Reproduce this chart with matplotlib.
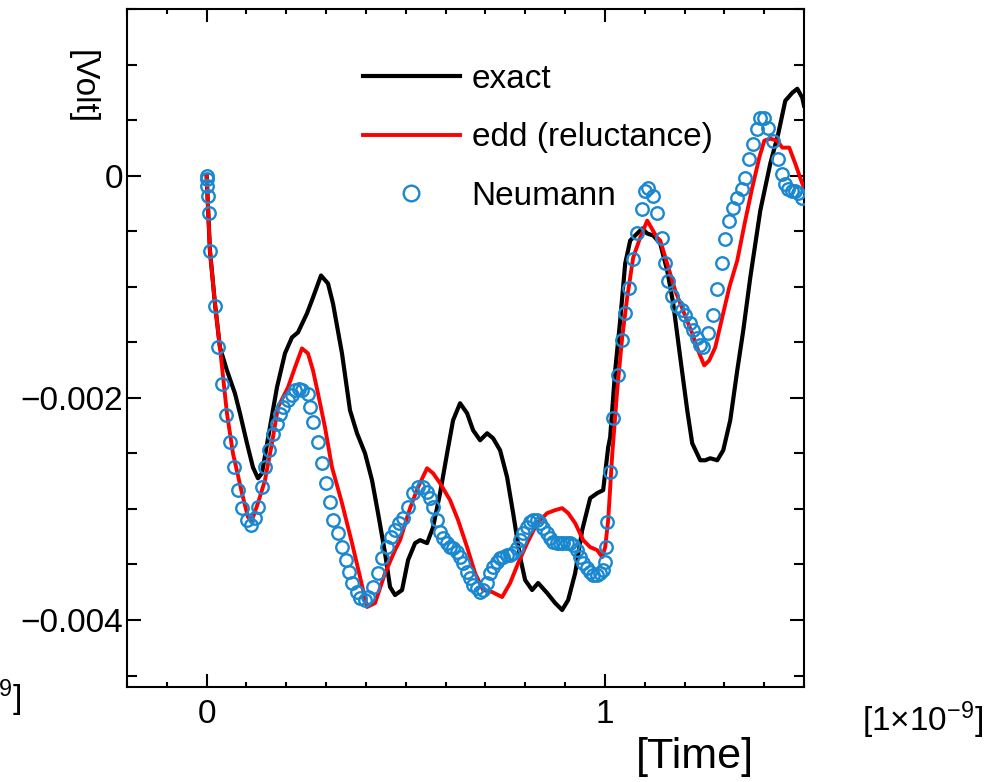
import numpy as np
import matplotlib
matplotlib.use('Agg')
import matplotlib.pyplot as plt
from matplotlib.ticker import MultipleLocator, FuncFormatter

plt.rcParams['font.family'] = ['Liberation Sans', 'DejaVu Sans']
plt.rcParams['mathtext.fontset'] = 'custom'
plt.rcParams['mathtext.rm'] = 'Liberation Sans'
plt.rcParams['mathtext.it'] = 'Liberation Sans:italic'
plt.rcParams['font.size'] = 24

# time in units of 1e-9 s, voltage in mV (scaled to V when drawn)
exact_t = [0.0, 0.0083, 0.0209, 0.0334, 0.0510, 0.0711, 0.0837, 0.1013, 0.1163, 0.1289,
           0.1389, 0.1590, 0.1766, 0.1967, 0.2143, 0.2294, 0.2520, 0.2671, 0.2872, 0.3048,
           0.3173, 0.3399, 0.3600, 0.3776, 0.3977, 0.4153, 0.4304, 0.4480, 0.4606, 0.4731,
           0.4907, 0.5058, 0.5234, 0.5359, 0.5535, 0.5686, 0.5862, 0.6038, 0.6188, 0.6364,
           0.6540, 0.6691, 0.6867, 0.7043, 0.7193, 0.7369, 0.7545, 0.7696, 0.7872, 0.7997,
           0.8173, 0.8324, 0.8550, 0.8751, 0.8927, 0.9078, 0.9254, 0.9430, 0.9631, 0.9807,
           0.9957, 1.0083, 1.0133, 1.0259, 1.0384, 1.0510, 1.0636, 1.0812, 1.0937, 1.1063,
           1.1214, 1.1389, 1.1565, 1.1716, 1.1892, 1.2068, 1.2193, 1.2394, 1.2520, 1.2646,
           1.2822, 1.2972, 1.3148, 1.3324, 1.3475, 1.3651, 1.3902, 1.4153, 1.4354, 1.4530,
           1.4706, 1.4832, 1.4957, 1.5000]
exact_v = [0.0, -0.674, -1.151, -1.546, -1.753, -1.960, -2.139, -2.409, -2.625, -2.724,
           -2.679, -2.265, -1.906, -1.600, -1.456, -1.411, -1.240, -1.097, -0.899, -0.971,
           -1.151, -1.600, -2.112, -2.319, -2.499, -2.742, -3.038, -3.398, -3.703, -3.775,
           -3.730, -3.461, -3.308, -3.281, -3.308, -3.164, -2.858, -2.499, -2.202, -2.049,
           -2.139, -2.292, -2.382, -2.319, -2.364, -2.472, -2.715, -3.038, -3.434, -3.640,
           -3.730, -3.667, -3.757, -3.847, -3.910, -3.820, -3.578, -3.191, -2.903, -2.858,
           -2.831, -2.445, -2.355, -1.753, -1.303, -0.791, -0.584, -0.521, -0.476, -0.521,
           -0.539, -0.611, -0.854, -1.151, -1.636, -2.112, -2.409, -2.562, -2.562, -2.544,
           -2.562, -2.472, -2.202, -1.753, -1.393, -0.917, -0.315, 0.108, 0.378, 0.674,
           0.746, 0.782, 0.701, 0.630]

edd_t = [0.0, 0.0083, 0.0209, 0.0334, 0.0510, 0.0661, 0.0887, 0.1038, 0.1138, 0.1289,
         0.1465, 0.1641, 0.1791, 0.2043, 0.2219, 0.2394, 0.2545, 0.2671, 0.2796, 0.2972,
         0.3148, 0.3399, 0.3651, 0.3852, 0.4028, 0.4229, 0.4480, 0.4731, 0.4857, 0.5108,
         0.5309, 0.5535, 0.5686, 0.5862, 0.6113, 0.6314, 0.6540, 0.6741, 0.6942, 0.7168,
         0.7420, 0.7621, 0.7822, 0.8048, 0.8299, 0.8550, 0.8751, 0.8927, 0.9078, 0.9254,
         0.9455, 0.9631, 0.9807, 0.9932, 1.0008, 1.0083, 1.0183, 1.0309, 1.0435, 1.0560,
         1.0711, 1.0887, 1.1063, 1.1314, 1.1390, 1.1565, 1.1766, 1.1992, 1.2193, 1.2369,
         1.2495, 1.2621, 1.2771, 1.2947, 1.3123, 1.3324, 1.3525, 1.3701, 1.3877, 1.4003,
         1.4153, 1.4329, 1.4455, 1.4630, 1.4781, 1.4957, 1.5000]
edd_v = [0.0, -0.674, -1.151, -1.546, -2.139, -2.499, -2.858, -3.074, -3.101, -2.948,
         -2.742, -2.409, -2.085, -1.906, -1.726, -1.555, -1.600, -1.753, -1.960, -2.265,
         -2.625, -2.948, -3.308, -3.613, -3.883, -3.847, -3.578, -3.371, -3.281, -2.993,
         -2.804, -2.634, -2.679, -2.769, -2.921, -3.101, -3.344, -3.578, -3.730, -3.748,
         -3.793, -3.667, -3.488, -3.308, -3.128, -3.038, -3.011, -2.993, -3.038, -3.128,
         -3.281, -3.344, -3.371, -3.434, -3.344, -3.101, -2.517, -1.933, -1.456, -1.097,
         -0.737, -0.557, -0.405, -0.560, -0.584, -0.791, -1.034, -1.240, -1.420, -1.600,
         -1.708, -1.663, -1.546, -1.276, -1.007, -0.764, -0.404, -0.108, 0.162, 0.315,
         0.333, 0.315, 0.252, 0.252, 0.108, -0.072, -0.110]

neumann_t = [0.0, 0.0005, 0.002, 0.003, 0.005, 0.0083, 0.0209, 0.0291, 0.0392, 0.0477,
             0.0585, 0.0693, 0.0779, 0.0879, 0.1005, 0.1113, 0.1214, 0.1296, 0.1382, 0.1465,
             0.1565, 0.1673, 0.1759, 0.1842, 0.1925, 0.2035, 0.2136, 0.2219, 0.2319, 0.2387,
             0.2538, 0.2595, 0.2678, 0.2804, 0.2889, 0.2990, 0.3098, 0.3181, 0.3291, 0.3392,
             0.3492, 0.3575, 0.3658, 0.3769, 0.3852, 0.3977, 0.4060, 0.4186, 0.4296, 0.4412,
             0.4523, 0.4631, 0.4731, 0.4832, 0.4940, 0.5065, 0.5191, 0.5309, 0.5435, 0.5535,
             0.5611, 0.5686, 0.5786, 0.5862, 0.5937, 0.6038, 0.6113, 0.6188, 0.6289, 0.6364,
             0.6440, 0.6540, 0.6615, 0.6691, 0.6791, 0.6867, 0.6942, 0.7043, 0.7118, 0.7193,
             0.7294, 0.7369, 0.7445, 0.7545, 0.7621, 0.7696, 0.7796, 0.7872, 0.7947, 0.8048,
             0.8123, 0.8199, 0.8299, 0.8375, 0.8450, 0.8550, 0.8626, 0.8701, 0.8802, 0.8877,
             0.8952, 0.9053, 0.9128, 0.9204, 0.9304, 0.9379, 0.9455, 0.9555, 0.9631, 0.9706,
             0.9807, 0.9882, 0.9957, 1.0008, 1.0033, 1.0058, 1.0133, 1.0209, 1.0334, 1.0435,
             1.0510, 1.0611, 1.0711, 1.0812, 1.0937, 1.1013, 1.1088, 1.1214, 1.1314, 1.1440,
             1.1515, 1.1590, 1.1691, 1.1817, 1.1942, 1.2018, 1.2143, 1.2219, 1.2319, 1.2394,
             1.2470, 1.2596, 1.2721, 1.2822, 1.2947, 1.3023, 1.3123, 1.3224, 1.3324, 1.3450,
             1.3525, 1.3626, 1.3726, 1.3827, 1.3902, 1.4003, 1.4103, 1.4229, 1.4354, 1.4455,
             1.4530, 1.4605, 1.4706, 1.4781, 1.4857, 1.4957]
neumann_v = [0.0, -0.03, -0.09, -0.18, -0.34, -0.674, -1.169, -1.543, -1.872, -2.157,
             -2.397, -2.622, -2.831, -2.996, -3.101, -3.146, -3.086, -2.982, -2.802, -2.622,
             -2.472, -2.322, -2.232, -2.142, -2.083, -2.022, -1.978, -1.933, -1.917, -1.933,
             -1.962, -2.083, -2.218, -2.397, -2.591, -2.771, -2.937, -3.101, -3.221, -3.341,
             -3.461, -3.566, -3.670, -3.746, -3.805, -3.820, -3.791, -3.701, -3.580, -3.445,
             -3.341, -3.251, -3.191, -3.131, -3.086, -2.982, -2.861, -2.804, -2.804, -2.849,
             -2.903, -2.984, -3.101, -3.209, -3.263, -3.308, -3.344, -3.353, -3.389, -3.434,
             -3.488, -3.569, -3.622, -3.685, -3.712, -3.748, -3.730, -3.667, -3.578, -3.524,
             -3.479, -3.443, -3.434, -3.416, -3.416, -3.398, -3.353, -3.281, -3.218, -3.164,
             -3.119, -3.101, -3.101, -3.128, -3.173, -3.218, -3.263, -3.299, -3.308, -3.308,
             -3.308, -3.308, -3.308, -3.326, -3.371, -3.434, -3.488, -3.533, -3.569, -3.596,
             -3.596, -3.578, -3.551, -3.479, -3.344, -3.119, -2.670, -2.184, -1.798, -1.483,
             -1.240, -1.007, -0.746, -0.512, -0.297, -0.135, -0.108, -0.180, -0.333, -0.557,
             -0.782, -0.944, -1.079, -1.169, -1.213, -1.258, -1.330, -1.393, -1.465, -1.528,
             -1.546, -1.420, -1.258, -1.016, -0.782, -0.566, -0.404, -0.288, -0.198, -0.117,
             -0.018, 0.153, 0.288, 0.422, 0.521, 0.521, 0.431, 0.315, 0.153, 0.018,
             -0.072, -0.117, -0.135, -0.135, -0.153, -0.198]

x_labels = {0: '0', 1: '1'}

fig = plt.figure(figsize=(10.03, 7.82), dpi=100)
ax = fig.add_axes([0.1266, 0.1219, 0.675, 0.8666])

ax.plot(exact_t, np.array(exact_v) * 1e-3, color='black', lw=3, label='exact', zorder=2)
ax.plot(edd_t, np.array(edd_v) * 1e-3, color='#ff0000', lw=2.8, label='edd (reluctance)', zorder=3)
ax.plot(neumann_t, np.array(neumann_v) * 1e-3, ls='none', marker='o', ms=9,
        mfc='none', mec='#1a88d0', mew=1.7, label='Neumann', zorder=4)

ax.set_xlim(-0.2, 1.5)
ax.set_ylim(-0.0046, 0.0015)

ax.xaxis.set_major_locator(MultipleLocator(1))
ax.xaxis.set_minor_locator(MultipleLocator(0.1))
ax.yaxis.set_major_locator(MultipleLocator(0.002))
ax.yaxis.set_minor_locator(MultipleLocator(0.0005))
ax.xaxis.set_major_formatter(FuncFormatter(lambda v, _: x_labels.get(int(round(v)), '')))
ax.yaxis.set_major_formatter(FuncFormatter(
    lambda v, _: '0' if abs(v) < 1e-12 else ('%g' % v).replace('-', '\u2212')))

for s in ax.spines.values():
    s.set_linewidth(1.5)
ax.tick_params(which='both', direction='in', top=True, right=True, width=1.5, labelsize=24)
ax.tick_params(axis='x', which='major', length=9.5, pad=9)
ax.tick_params(axis='x', which='minor', length=3.5)
ax.tick_params(axis='y', which='major', length=10, pad=3)
ax.tick_params(axis='y', which='minor', length=7)

ax.legend(loc='upper left', bbox_to_anchor=(363 / 1003, 1 - 64 / 782),
          bbox_transform=fig.transFigure, frameon=False, fontsize=24,
          handlelength=2.9, handletextpad=0.36, labelspacing=0.82,
          borderpad=0, borderaxespad=0, markerscale=1.25)

fig.text(0.0818, 0.8887, '[Volt]', rotation=270, ha='center', va='center', fontsize=24)
fig.text(695 / 1003, 1 - 757 / 782, '[Time]', ha='center', va='center', fontsize=31)
fig.text(862 / 1003, 0.079, r'[1$\times$10$^{-9}$]', ha='left', va='center', fontsize=24)
fig.text(21 / 1003, 0.107, r'[1$\times$10$^{-9}$]', ha='right', va='center', fontsize=24)

fig.savefig('out.png', dpi=100)
